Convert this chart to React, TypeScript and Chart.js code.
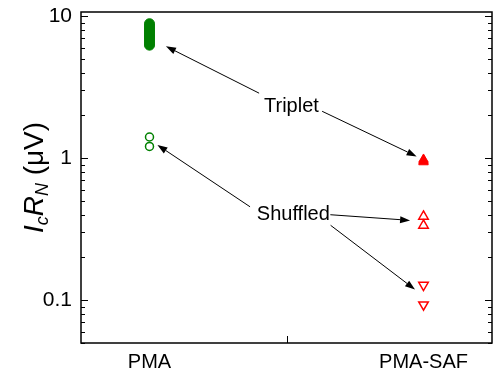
import { useEffect, useRef } from "react";
import { Chart, registerables } from "chart.js";

Chart.register(...registerables);

// ---- data ----
const categories = ["PMA", "PMA-SAF"];
const categoryPositions = [1, 2];
const pmaTriplet = [6.25, 6.45, 6.65, 6.85, 7.05, 7.25, 7.45, 7.65, 7.85, 8.05, 8.3, 8.55, 8.85];
const pmaShuffled = [1.41, 1.21];
const safTriplet = [0.94, 0.96, 0.98];
const safShuffledUp = [0.389, 0.336];
const safShuffledDown = [0.128, 0.093];
const yTickValues = [0.1, 1, 10];
const yTickLabels = ["0.1", "1", "10"];
const xMin = 0.75;
const xMax = 2.25;
const yMin = 0.05;
const yMax = 10.7;
const labelTexts = ["Triplet", "Shuffled"];
const labelX = [1.518, 1.525];
const labelY = [2.33, 0.4];
// arrows: [fromX, fromY, toX, toY] in data units
const arrowFromX = [1.4, 1.63, 1.367, 1.66, 1.661];
const arrowFromY = [2.87, 2.14, 0.455, 0.4, 0.337];
const arrowToX = [1.06, 1.975, 1.029, 1.951, 1.969];
const arrowToY = [6.14, 1.03, 1.24, 0.365, 0.119];

const GREEN = "#008000";
const RED = "#ff0000";
const FONT = "'Liberation Sans', Arial, sans-serif";

const decorations = {
  id: "decorations",
  afterDatasetsDraw(chart: any) {
    const { ctx, chartArea } = chart;
    const xs = chart.scales.x;
    const ys = chart.scales.y;
    ctx.save();
    // frame
    ctx.strokeStyle = "#000";
    ctx.lineWidth = 1.5;
    ctx.strokeRect(chartArea.left, chartArea.top, chartArea.right - chartArea.left, chartArea.bottom - chartArea.top);

    // y ticks (inward, both sides)
    ctx.lineWidth = 1;
    for (let e = -2; e <= 1; e++) {
      for (let m = 1; m <= 9; m++) {
        const v = m * Math.pow(10, e);
        if (v < yMin || v > yMax) continue;
        const py = Math.round(ys.getPixelForValue(v)) + 0.5;
        const len = m === 1 ? 7 : 4;
        ctx.beginPath();
        ctx.moveTo(chartArea.left, py);
        ctx.lineTo(chartArea.left + len, py);
        ctx.moveTo(chartArea.right, py);
        ctx.lineTo(chartArea.right - len, py);
        ctx.stroke();
      }
    }
    // x middle tick
    const mx = Math.round(xs.getPixelForValue((categoryPositions[0] + categoryPositions[1]) / 2)) + 0.5;
    ctx.beginPath();
    ctx.moveTo(mx, chartArea.bottom);
    ctx.lineTo(mx, chartArea.bottom - 7);
    ctx.stroke();

    // annotation labels
    ctx.fillStyle = "#000";
    ctx.font = `20px ${FONT}`;
    ctx.textAlign = "center";
    ctx.textBaseline = "middle";
    labelTexts.forEach((t, i) => {
      ctx.fillText(t, xs.getPixelForValue(labelX[i]), ys.getPixelForValue(labelY[i]));
    });

    // arrows
    ctx.strokeStyle = "#000";
    ctx.lineWidth = 1;
    arrowFromX.forEach((_, i) => {
      const x1 = xs.getPixelForValue(arrowFromX[i]);
      const y1 = ys.getPixelForValue(arrowFromY[i]);
      const x2 = xs.getPixelForValue(arrowToX[i]);
      const y2 = ys.getPixelForValue(arrowToY[i]);
      const ang = Math.atan2(y2 - y1, x2 - x1);
      const hl = 10;
      const hw = 3.5;
      const bx = x2 - hl * Math.cos(ang);
      const by = y2 - hl * Math.sin(ang);
      ctx.beginPath();
      ctx.moveTo(x1, y1);
      ctx.lineTo(bx, by);
      ctx.stroke();
      ctx.beginPath();
      ctx.moveTo(x2, y2);
      ctx.lineTo(bx + hw * Math.sin(ang), by - hw * Math.cos(ang));
      ctx.lineTo(bx - hw * Math.sin(ang), by + hw * Math.cos(ang));
      ctx.closePath();
      ctx.fill();
    });

    // y title with subscripts
    const cx = chartArea.left - 48;
    const cy = (chartArea.top + chartArea.bottom) / 2;
    const parts = [
      { t: "I", f: `italic 28px ${FONT}`, dy: 0 },
      { t: "c", f: `italic 18px ${FONT}`, dy: 5 },
      { t: "R", f: `italic 28px ${FONT}`, dy: 0 },
      { t: "N", f: `italic 18px ${FONT}`, dy: 5 },
      { t: " (\u03bcV)", f: `28px ${FONT}`, dy: 0 },
    ];
    let total = 0;
    const widths = parts.map((p) => {
      ctx.font = p.f;
      const w = ctx.measureText(p.t).width;
      total += w;
      return w;
    });
    ctx.translate(cx, cy);
    ctx.rotate(-Math.PI / 2);
    ctx.textAlign = "left";
    ctx.textBaseline = "alphabetic";
    let x = -total / 2;
    parts.forEach((p, i) => {
      ctx.font = p.f;
      ctx.fillText(p.t, x, 10 + p.dy);
      x += widths[i];
    });
    ctx.restore();
  },
};

export default function App() {
  const ref = useRef<HTMLCanvasElement>(null);
  useEffect(() => {
    const canvas = ref.current!;
    const pts = (xv: number, arr: number[]) => arr.map((v) => ({ x: xv, y: v }));
    const chart = new Chart(canvas, {
      type: "scatter",
      data: {
        datasets: [
          { data: pts(categoryPositions[0], pmaTriplet), pointStyle: "circle", pointRadius: 5, backgroundColor: GREEN, borderColor: GREEN, borderWidth: 1 },
          { data: pts(categoryPositions[0], pmaShuffled), pointStyle: "circle", pointRadius: 4, backgroundColor: "#fff", borderColor: GREEN, borderWidth: 1.5 },
          { data: pts(categoryPositions[1], safTriplet), pointStyle: "triangle", pointRadius: 5.5, backgroundColor: RED, borderColor: RED, borderWidth: 1 },
          { data: pts(categoryPositions[1], safShuffledUp), pointStyle: "triangle", pointRadius: 5.5, backgroundColor: "#fff", borderColor: RED, borderWidth: 1.5 },
          { data: pts(categoryPositions[1], safShuffledDown), pointStyle: "triangle", rotation: 180, pointRadius: 5.5, backgroundColor: "#fff", borderColor: RED, borderWidth: 1.5 },
        ] as any,
      },
      options: {
        responsive: false,
        animation: false,
        events: [],
        layout: { padding: { top: 12, right: 8, left: 0, bottom: 0 } },
        plugins: { legend: { display: false }, tooltip: { enabled: false } },
        scales: {
          x: {
            type: "linear",
            min: xMin,
            max: xMax,
            afterFit: (s: any) => { s.height = 37; s.paddingLeft = 0; s.paddingRight = 0; },
            afterBuildTicks: (s: any) => { s.ticks = categoryPositions.map((v) => ({ value: v })); },
            ticks: {
              callback: (_v: any, i: number) => categories[i],
              font: { family: FONT, size: 20 },
              color: "#000",
              padding: 7,
              maxRotation: 0,
              autoSkip: false,
            },
            grid: { display: false, drawTicks: false },
            border: { display: false },
          },
          y: {
            type: "logarithmic",
            min: yMin,
            max: yMax,
            afterFit: (s: any) => { s.width = 81; s.paddingTop = 0; s.paddingBottom = 0; },
            afterBuildTicks: (s: any) => { s.ticks = yTickValues.map((v) => ({ value: v })); },
            ticks: {
              callback: (_v: any, i: number) => yTickLabels[i],
              font: { family: FONT, size: 21 },
              color: "#000",
              padding: 9,
              autoSkip: false,
            },
            grid: { display: false, drawTicks: false },
            border: { display: false },
          },
        },
      } as any,
      plugins: [decorations],
    });
    return () => chart.destroy();
  }, []);
  return (
    <div style={{ position: "absolute", left: 0, top: 0, width: 500, height: 380, background: "#fff" }}>
      <canvas ref={ref} width={500} height={380} style={{ width: 500, height: 380, display: "block" }} />
    </div>
  );
}
